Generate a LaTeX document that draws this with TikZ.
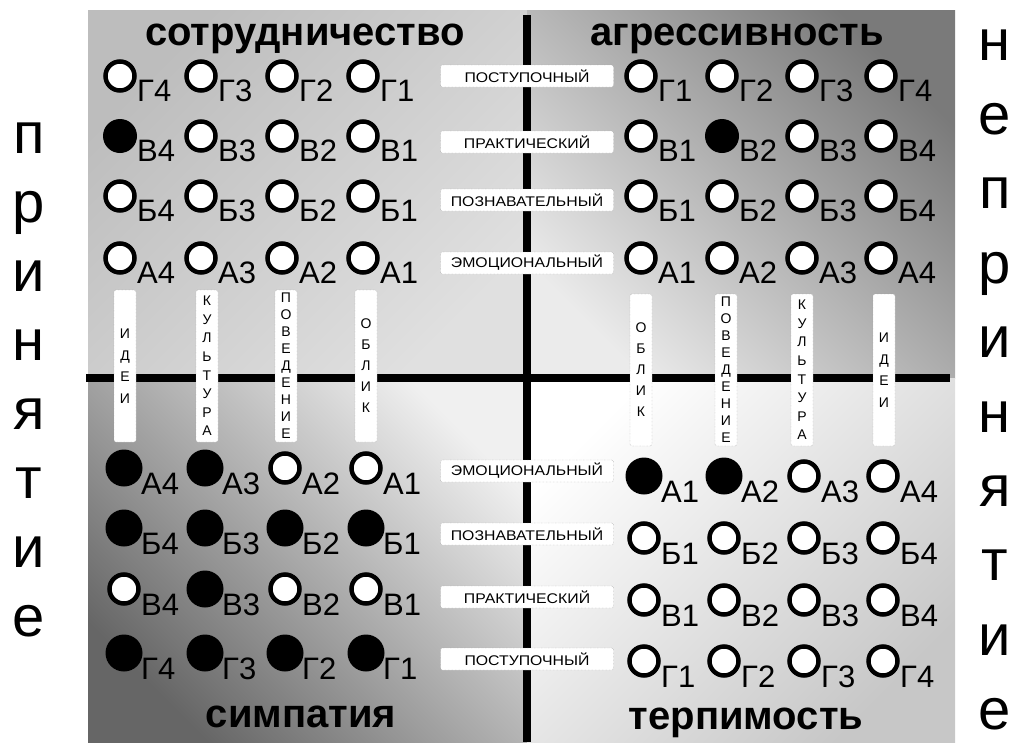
\documentclass[tikz,border=0pt]{standalone}
\usepackage{fontspec}
\setmainfont{Liberation Sans}
\newfontfamily\boxfont[FakeStretch=1.13]{Liberation Sans}

\begin{document}
\begin{tikzpicture}[x=1pt, y=-1pt,
    d0/.style={circle, draw=black, line width=4.5pt, fill=white, minimum size=29pt, inner sep=0pt},
    d1/.style={circle, fill=black, minimum size=37pt, inner sep=0pt},
    d2/.style={d1, minimum size=34pt},
    idx/.style={anchor=base west, inner sep=0pt, font=\fontsize{31}{31}\selectfont},
    rowbox/.style={draw=black!45, densely dotted, fill=white, rounded corners=2pt,
      minimum width=173pt, minimum height=22pt, inner sep=0pt, font=\boxfont\fontsize{14}{14}\selectfont},
    catbox/.style={draw=black!45, densely dotted, fill=white, rounded corners=2pt,
      minimum width=22pt, minimum height=152pt, inner sep=0pt, align=center,
      font=\fontsize{14}{#1}\selectfont},
    title/.style={anchor=base, inner sep=0pt, font=\bfseries\fontsize{40}{40}\selectfont},
    side/.style={anchor=base, inner sep=0pt, font=\fontsize{58}{58}\selectfont},
    axis/.style={line width=8pt}]
  \useasboundingbox (0,0) rectangle (1028,742);

  % background, darker towards two corners
  \shade[top color=black!26, bottom color=black!12, shading angle=45] (88,10) rectangle (527,378);
  \shade[top color=black!52, bottom color=black!8, shading angle=-45] (527,10) rectangle (955,378);
  \shade[top color=black!6, bottom color=black!60, shading angle=-45] (88,378) rectangle (527,742);
  \shade[top color=white, bottom color=black!22, shading angle=45] (527,378) rectangle (955,742);

  % axes
  \coordinate (top) at (527,15);
  \coordinate (bottom) at (527,742);
  \coordinate (left) at (86,378);
  \coordinate (right) at (950,378);
  \draw[axis] (top) -- (bottom);
  \draw[axis] (left) -- (right);

  % level boxes on the vertical axis
  \foreach \t/\y [count=\k] in {ПОСТУПОЧНЫЙ/76, ПРАКТИЧЕСКИЙ/142, ПОЗНАВАТЕЛЬНЫЙ/200, ЭМОЦИОНАЛЬНЫЙ/263,
      ЭМОЦИОНАЛЬНЫЙ/471, ПОЗНАВАТЕЛЬНЫЙ/534, ПРАКТИЧЕСКИЙ/597, ПОСТУПОЧНЫЙ/659}
    \node[rowbox] (lvl\k) at (527,\y) {\t};

  % category boxes on the horizontal axis
  \node[catbox=21.5] (lideas) at (125,366) {И\\Д\\Е\\И};
  \node[catbox=18.6] (lcult) at (207,366) {К\\У\\Л\\Ь\\Т\\У\\Р\\А};
  \node[catbox=17] (lbehav) at (286,366) {П\\О\\В\\Е\\Д\\Е\\Н\\И\\Е};
  \node[catbox=21] (llook) at (366,366) {О\\Б\\Л\\И\\К};
  \node[catbox=21] (rlook) at (641,370) {О\\Б\\Л\\И\\К};
  \node[catbox=17] (rbehav) at (726,370) {П\\О\\В\\Е\\Д\\Е\\Н\\И\\Е};
  \node[catbox=18.6] (rcult) at (802,370) {К\\У\\Л\\Ь\\Т\\У\\Р\\А};
  \node[catbox=21.5] (rideas) at (884,370) {И\\Д\\Е\\И};

  % top left
  \foreach \r/\l/\y/\fa/\fb/\fc/\fd in {Г/g/76/0/0/0/0, В/v/136/2/0/0/0, Б/b/196/0/0/0/0, А/a/258/0/0/0/0}
    \foreach \x/\n/\f in {120/4/\fa, 201/3/\fb, 282/2/\fc, 363/1/\fd} {
      \node[d\f] (tl\l\n) at (\x,\y) {};
      \node[idx] at ([xshift=17pt, yshift=-25pt]tl\l\n.center) {\r\n};
    }
  % top right
  \foreach \r/\l/\y/\fa/\fb/\fc/\fd in {Г/g/76/0/0/0/0, В/v/136/0/2/0/0, Б/b/196/0/0/0/0, А/a/258/0/0/0/0}
    \foreach \x/\n/\f in {641/1/\fa, 722/2/\fb, 802/3/\fc, 881/4/\fd} {
      \node[d\f] (tr\l\n) at (\x,\y) {};
      \node[idx] at ([xshift=17pt, yshift=-25pt]tr\l\n.center) {\r\n};
    }
  % bottom left
  \foreach \r/\l/\y/\fa/\fb/\fc/\fd in {А/a/468/1/1/0/0, Б/b/528/1/1/1/1, В/v/589/0/1/0/0, Г/g/653/1/1/1/1}
    \foreach \x/\n/\f in {124/4/\fa, 205/3/\fb, 285/2/\fc, 366/1/\fd} {
      \node[d\f] (bl\l\n) at (\x,\y) {};
      \node[idx] at ([xshift=17pt, yshift=-26pt]bl\l\n.center) {\r\n};
    }
  % bottom right
  \foreach \r/\l/\y/\fa/\fb/\fc/\fd in {А/a/476/1/1/0/0, Б/b/538/0/0/0/0, В/v/600/0/0/0/0, Г/g/661/0/0/0/0}
    \foreach \x/\n/\f in {644/1/\fa, 724/2/\fb, 804/3/\fc, 883/4/\fd} {
      \node[d\f] (br\l\n) at (\x,\y) {};
      \node[idx] at ([xshift=17pt, yshift=-26pt]br\l\n.center) {\r\n};
    }

  % quadrant titles
  \node[title] (coop) at (305,45) {сотрудничество};
  \node[title] (aggr) at (737,45) {агрессивность};
  \node[title] (symp) at (301,727) {симпатия};
  \node[title] (toler) at (746,729) {терпимость};

  % side words
  \foreach \ch [count=\k from 0] in {п,р,и,н,я,т,и,е}
    \node[side] (acc\k) at (29,{153+69*\k}) {\ch};
  \foreach \ch [count=\k from 0] in {н,е,п,р,и,н,я,т,и,е}
    \node[side] (rej\k) at (995,{60+74.4*\k}) {\ch};
\end{tikzpicture}
\end{document}
